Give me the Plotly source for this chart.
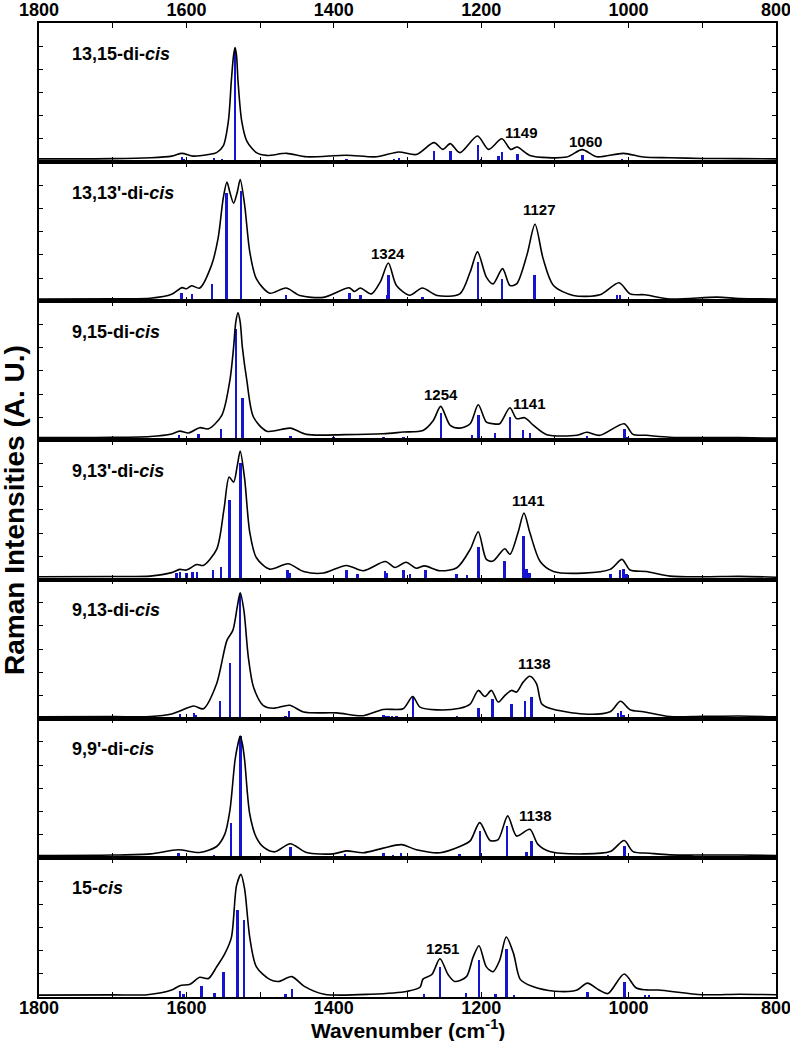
import plotly.graph_objects as go
from plotly.subplots import make_subplots

# ---------------- data ----------------
NAMES = ["13,15-di-<i>cis</i>", "13,13'-di-<i>cis</i>", "9,15-di-<i>cis</i>",
         "9,13'-di-<i>cis</i>", "9,13-di-<i>cis</i>", "9,9'-di-<i>cis</i>", "15-<i>cis</i>"]

TICK_VALS = [1800, 1700, 1600, 1500, 1400, 1300, 1200, 1100, 1000, 900, 800]
TICK_TEXT = ["1800", " ", "1600", " ", "1400", " ", "1200", " ", "1000", " ", "800"]

# panel 1: 13,15-di-cis
P1_CURVE_WN = [1800, 1700, 1649, 1620, 1606, 1591, 1570, 1559, 1550, 1543, 1539, 1536, 1534, 1532, 1530, 1525,
               1518, 1505, 1491, 1464, 1437, 1383, 1342, 1312, 1288, 1264, 1252, 1242, 1229, 1205, 1190, 1172,
               1160, 1151, 1134, 1084, 1063, 1043, 1007, 980, 944, 900, 850, 800]
P1_CURVE_I = [0.14, 0.15, 0.19, 0.26, 0.38, 0.26, 0.33, 0.41, 0.70, 1.78, 3.52, 4.6, 4.94, 4.6, 3.52, 1.78,
              0.91, 0.41, 0.29, 0.38, 0.23, 0.30, 0.23, 0.44, 0.33, 0.84, 0.55, 0.80, 0.41, 1.13, 0.55, 1.01,
              0.55, 0.65, 0.29, 0.22, 0.54, 0.23, 0.38, 0.22, 0.19, 0.16, 0.15, 0.14]
P1_STICK_WN = [1606, 1604, 1597, 1563, 1552, 1534, 1466, 1462, 1383, 1370, 1319, 1312, 1290, 1264, 1242, 1228,
               1205, 1201, 1177, 1172, 1151, 1063, 1021, 1009, 1005, 975]
P1_STICK_I = [0.22, 0.12, 0.08, 0.16, 0.12, 4.94, 0.06, 0.08, 0.15, 0.06, 0.12, 0.16, 0.06, 0.48, 0.48, 0.07,
              0.74, 0.15, 0.26, 0.42, 0.33, 0.30, 0.08, 0.12, 0.10, 0.06]

# panel 2: 13,13'-di-cis
P2_CURVE_WN = [1800, 1700, 1649, 1620, 1606, 1600, 1593, 1582, 1566, 1557, 1550, 1545, 1541, 1536, 1531, 1527,
               1521, 1514, 1505, 1487, 1465, 1446, 1414, 1379, 1372, 1364, 1349, 1337, 1326, 1315, 1297, 1280,
               1260, 1229, 1215, 1205, 1193, 1184, 1171, 1161, 1152, 1138, 1127, 1116, 1102, 1075, 1039, 1013,
               998, 978, 944, 880, 850, 800]
P2_CURVE_I = [0.10, 0.11, 0.13, 0.30, 0.59, 0.54, 0.67, 0.57, 1.55, 2.71, 4.45, 5.14, 4.70, 4.23, 4.70, 5.25,
              4.16, 2.13, 0.97, 0.35, 0.57, 0.25, 0.17, 0.58, 0.42, 0.57, 0.32, 0.83, 1.65, 0.68, 0.26, 0.57,
              0.25, 0.32, 1.26, 2.13, 1.04, 0.75, 1.41, 0.68, 0.75, 1.99, 3.32, 1.84, 0.68, 0.25, 0.28, 0.80,
              0.32, 0.28, 0.10, 0.18, 0.12, 0.10]
P2_STICK_WN = [1607, 1603, 1593, 1566, 1546, 1526, 1465, 1401, 1379, 1364, 1328, 1326, 1319, 1281, 1279, 1205,
               1201, 1172, 1129, 1127, 1102, 1016, 1012, 980]
P2_STICK_I = [0.35, 0.10, 0.32, 0.75, 4.67, 4.77, 0.28, 0.10, 0.35, 0.25, 0.25, 1.14, 0.06, 0.17, 0.20, 1.70,
              0.10, 0.94, 1.14, 1.14, 0.07, 0.28, 0.28, 0.10]

# panel 3: 9,15-di-cis
P3_CURVE_WN = [1800, 1700, 1649, 1620, 1609, 1597, 1582, 1570, 1552, 1541, 1536, 1533, 1530, 1527, 1524, 1518,
               1509, 1491, 1459, 1437, 1385, 1333, 1306, 1279, 1265, 1255, 1242, 1229, 1215, 1204, 1193, 1184,
               1175, 1161, 1152, 1141, 1129, 1111, 1070, 1057, 1039, 1006, 994, 976, 944, 900, 850, 800]
P3_CURVE_I = [0.12, 0.13, 0.17, 0.28, 0.40, 0.32, 0.55, 0.50, 1.08, 2.59, 4.00, 5.10, 5.50, 5.10, 4.00, 2.59,
              1.01, 0.40, 0.53, 0.26, 0.25, 0.29, 0.36, 0.43, 0.86, 1.47, 0.65, 0.53, 0.72, 1.54, 0.79, 0.72,
              0.72, 1.41, 0.94, 0.98, 0.65, 0.25, 0.22, 0.35, 0.22, 0.72, 0.26, 0.22, 0.14, 0.12, 0.12, 0.10]
P3_STICK_WN = [1610, 1584, 1553, 1533, 1524, 1468, 1459, 1401, 1333, 1317, 1306, 1283, 1255, 1228, 1213, 1204,
               1182, 1161, 1144, 1134, 1057, 1006, 1002]
P3_STICK_I = [0.22, 0.25, 0.46, 4.78, 1.80, 0.10, 0.17, 0.12, 0.14, 0.10, 0.14, 0.10, 1.15, 0.10, 0.22, 1.08,
              0.29, 0.98, 0.43, 0.32, 0.19, 0.46, 0.14]

# panel 4: 9,13'-di-cis
P4_CURVE_WN = [1800, 1700, 1649, 1620, 1609, 1600, 1586, 1577, 1559, 1549, 1542, 1536, 1531, 1527, 1521, 1514,
               1505, 1487, 1462, 1441, 1414, 1383, 1360, 1330, 1317, 1302, 1288, 1277, 1256, 1233, 1215, 1204,
               1193, 1184, 1168, 1161, 1150, 1142, 1134, 1120, 1102, 1061, 1025, 1009, 998, 976, 944, 900, 850, 800]
P4_CURVE_I = [0.12, 0.13, 0.15, 0.30, 0.44, 0.41, 0.65, 0.61, 1.30, 3.04, 4.42, 4.20, 4.90, 5.54, 4.35, 2.03,
              0.94, 0.45, 0.68, 0.35, 0.28, 0.61, 0.38, 0.78, 0.52, 0.75, 0.49, 0.59, 0.38, 0.51, 1.30, 2.06,
              0.87, 0.80, 1.33, 1.09, 2.03, 2.87, 2.03, 0.78, 0.35, 0.28, 0.44, 0.87, 0.41, 0.35, 0.15, 0.12, 0.14, 0.10]
P4_STICK_WN = [1614, 1609, 1600, 1592, 1586, 1564, 1553, 1542, 1527, 1463, 1460, 1383, 1368, 1331, 1328, 1306,
               1297, 1276, 1234, 1220, 1204, 1169, 1143, 1139, 1135, 1025, 1012, 1007, 1003]
P4_STICK_I = [0.26, 0.30, 0.26, 0.30, 0.30, 0.41, 0.52, 3.43, 5.00, 0.38, 0.26, 0.41, 0.23, 0.35, 0.26, 0.38,
              0.23, 0.38, 0.23, 0.19, 1.38, 0.77, 1.88, 0.45, 0.28, 0.23, 0.38, 0.42, 0.23]

# panel 5: 9,13-di-cis
P5_CURVE_WN = [1800, 1700, 1649, 1620, 1609, 1590, 1577, 1559, 1545, 1537, 1531, 1527, 1522, 1516, 1509, 1496,
               1482, 1460, 1441, 1396, 1360, 1333, 1306, 1293, 1283, 1260, 1229, 1215, 1204, 1195, 1186, 1177,
               1168, 1159, 1152, 1143, 1134, 1125, 1118, 1107, 1061, 1025, 1011, 998, 980, 944, 900, 850, 800]
P5_CURVE_I = [0.08, 0.09, 0.09, 0.20, 0.33, 0.55, 0.43, 1.51, 3.38, 3.81, 4.82, 5.43, 4.67, 2.66, 1.37, 0.58,
              0.45, 0.58, 0.29, 0.25, 0.13, 0.40, 0.43, 0.96, 0.50, 0.38, 0.45, 0.63, 1.22, 0.96, 1.22, 0.72,
              1.00, 1.22, 1.15, 1.58, 1.83, 1.51, 0.65, 0.45, 0.20, 0.30, 0.75, 0.39, 0.30, 0.09, 0.10, 0.12, 0.08]
P5_STICK_WN = [1609, 1590, 1587, 1573, 1562, 1555, 1541, 1528, 1466, 1461, 1401, 1396, 1333, 1330, 1326, 1321,
               1315, 1293, 1283, 1233, 1222, 1204, 1185, 1159, 1141, 1132, 1025, 1015, 1011, 1007, 980]
P5_STICK_I = [0.23, 0.26, 0.20, 0.10, 0.10, 0.79, 2.42, 5.43, 0.15, 0.36, 0.10, 0.10, 0.20, 0.15, 0.15, 0.15,
              0.15, 0.94, 0.10, 0.15, 0.10, 0.50, 0.86, 0.65, 0.79, 0.94, 0.10, 0.25, 0.35, 0.20, 0.10]

# panel 6: 9,9'-di-cis
P6_CURVE_WN = [1800, 1700, 1649, 1611, 1582, 1559, 1548, 1541, 1534, 1530, 1527, 1524, 1521, 1514, 1505, 1495,
               1480, 1459, 1437, 1401, 1383, 1360, 1333, 1308, 1288, 1256, 1229, 1215, 1202, 1188, 1177, 1164,
               1152, 1134, 1123, 1107, 1061, 1025, 1006, 994, 971, 944, 900, 850, 800]
P6_CURVE_I = [0.10, 0.12, 0.17, 0.35, 0.23, 0.49, 1.01, 2.04, 4.22, 4.91, 5.25, 4.91, 4.22, 1.88, 0.87, 0.45,
              0.26, 0.61, 0.23, 0.17, 0.30, 0.22, 0.42, 0.57, 0.35, 0.22, 0.49, 0.73, 1.52, 0.75, 0.79, 1.81,
              0.94, 1.23, 0.58, 0.27, 0.17, 0.27, 0.75, 0.27, 0.20, 0.13, 0.12, 0.12, 0.10]
P6_STICK_WN = [1611, 1563, 1540, 1527, 1459, 1385, 1333, 1320, 1309, 1303, 1230, 1202, 1165, 1139, 1132, 1028,
               1006, 975]
P6_STICK_I = [0.23, 0.13, 1.52, 5.25, 0.47, 0.20, 0.23, 0.13, 0.23, 0.09, 0.20, 1.16, 1.38, 0.27, 0.73, 0.13,
              0.52, 0.08]

# panel 7: 15-cis
P7_CURVE_WN = [1800, 1700, 1653, 1620, 1609, 1595, 1582, 1570, 1559, 1548, 1539, 1532, 1526, 1521, 1514, 1505,
               1487, 1475, 1457, 1440, 1413, 1350, 1300, 1283, 1279, 1267, 1256, 1245, 1236, 1220, 1211, 1203,
               1193, 1184, 1175, 1166, 1156, 1147, 1131, 1100, 1070, 1056, 1040, 1028, 1006, 990, 978, 960,
               900, 850, 800]
P7_CURVE_I = [0.08, 0.09, 0.10, 0.30, 0.49, 0.55, 0.85, 0.80, 1.30, 1.86, 2.56, 4.80, 5.29, 4.66, 2.56, 1.30,
              0.76, 0.67, 0.88, 0.46, 0.12, 0.12, 0.25, 0.42, 0.77, 0.97, 1.65, 0.97, 0.67, 0.88, 1.72, 2.21,
              1.30, 1.09, 1.58, 2.59, 1.86, 0.76, 0.46, 0.25, 0.30, 0.60, 0.30, 0.15, 0.99, 0.40, 0.31, 0.30,
              0.10, 0.12, 0.10]
P7_STICK_WN = [1609, 1604, 1580, 1562, 1550, 1531, 1522, 1466, 1457, 1278, 1256, 1221, 1203, 1181, 1166, 1156,
               1056, 1006, 978, 973]
P7_STICK_I = [0.25, 0.12, 0.50, 0.20, 1.09, 3.75, 3.33, 0.15, 0.35, 0.15, 1.30, 0.20, 1.60, 0.15, 2.07, 0.10,
              0.21, 0.67, 0.10, 0.10]

# peak labels: panel index, text, wavenumber
LABEL_PANEL = [0, 0, 1, 1, 2, 2, 3, 4, 5, 6]
LABEL_TEXT = ["1149", "1060", "1324", "1127", "1254", "1141", "1141", "1138", "1138", "1251"]
LABEL_WN = [1146, 1059, 1327, 1121, 1254, 1134, 1136, 1128, 1126, 1252]
LABEL_Y = [1.27, 0.91, 2.06, 3.94, 1.97, 1.61, 3.40, 2.40, 1.81, 2.07]

CURVES = [(P1_CURVE_WN, P1_CURVE_I), (P2_CURVE_WN, P2_CURVE_I), (P3_CURVE_WN, P3_CURVE_I),
          (P4_CURVE_WN, P4_CURVE_I), (P5_CURVE_WN, P5_CURVE_I), (P6_CURVE_WN, P6_CURVE_I),
          (P7_CURVE_WN, P7_CURVE_I)]
STICKS = [(P1_STICK_WN, P1_STICK_I), (P2_STICK_WN, P2_STICK_I), (P3_STICK_WN, P3_STICK_I),
          (P4_STICK_WN, P4_STICK_I), (P5_STICK_WN, P5_STICK_I), (P6_STICK_WN, P6_STICK_I),
          (P7_STICK_WN, P7_STICK_I)]

# ---------------- figure ----------------
FONT = "Liberation Sans, Arial, sans-serif"
BLUE = "#1515d0"
N = len(NAMES)

fig = make_subplots(rows=N, cols=1, shared_xaxes=True, vertical_spacing=0)

for k in range(N):
    cw, ci = CURVES[k]
    sw, si = STICKS[k]
    fig.add_trace(go.Scatter(x=cw, y=ci, mode="lines",
                             line=dict(color="black", width=1.6, shape="spline", smoothing=0.8),
                             hoverinfo="skip"), row=k + 1, col=1)
    fig.add_trace(go.Bar(x=sw, y=si, width=2.6, marker=dict(color=BLUE, line=dict(width=0)),
                         hoverinfo="skip"), row=k + 1, col=1)
    sfx = "" if k == 0 else str(k + 1)
    fig.add_annotation(text="<b>" + NAMES[k] + "</b>", xref="x%s domain" % sfx, yref="y%s domain" % sfx,
                       x=0.042, y=0.78, xanchor="left", yanchor="middle", showarrow=False,
                       font=dict(family=FONT, size=18, color="black"))

for t, p, wn, yv in zip(LABEL_TEXT, LABEL_PANEL, LABEL_WN, LABEL_Y):
    sfx = "" if p == 0 else str(p + 1)
    fig.add_annotation(text="<b>" + t + "</b>", xref="x" + sfx, yref="y" + sfx, x=wn, y=yv,
                       xanchor="center", yanchor="middle", showarrow=False,
                       font=dict(family=FONT, size=15, color="black"))

fig.update_xaxes(range=[1800, 800], tickmode="array", tickvals=TICK_VALS, ticktext=TICK_TEXT,
                 ticks="inside", ticklen=5, tickwidth=1.2, tickcolor="black",
                 showline=True, linecolor="black", linewidth=1.5, mirror="allticks",
                 showgrid=False, zeroline=False, automargin=False, ticklabeloverflow="allow",
                 tickfont=dict(family=FONT, size=18, color="black", weight="bold"))
fig.update_xaxes(showticklabels=True, side="top", ticklabelstandoff=-2, row=1, col=1)
fig.update_xaxes(showticklabels=True, ticklabelstandoff=-6, row=N, col=1)

fig.update_yaxes(range=[0, 6], tickmode="linear", tick0=0, dtick=1, ticks="inside", ticklen=4,
                 tickwidth=1.2, tickcolor="black", showticklabels=False, automargin=False,
                 showline=True, linecolor="black", linewidth=1.5, mirror="allticks",
                 showgrid=False, zeroline=False)

fig.add_annotation(text="<b>Raman Intensities (A. U.)</b>", xref="paper", yref="paper",
                   x=-0.034, y=0.5, xanchor="center", yanchor="middle", textangle=-90,
                   showarrow=False, font=dict(family=FONT, size=28, color="black"))
fig.add_annotation(text="<b>Wavenumber (cm<sup>-1</sup>)</b>", xref="paper", yref="paper",
                   x=0.5, y=-0.033, xanchor="center", yanchor="middle",
                   showarrow=False, font=dict(family=FONT, size=21, color="black"))

fig.update_layout(width=790, height=1041, margin=dict(l=39, r=14, t=23, b=44, pad=0),
                  showlegend=False, plot_bgcolor="white", paper_bgcolor="white",
                  bargap=0, barmode="overlay")

# remove the default 8 px page margin so the figure fills the window exactly
fig.write_html("out.html", config={"displayModeBar": False},
               post_script="document.body.style.margin='0px';")
